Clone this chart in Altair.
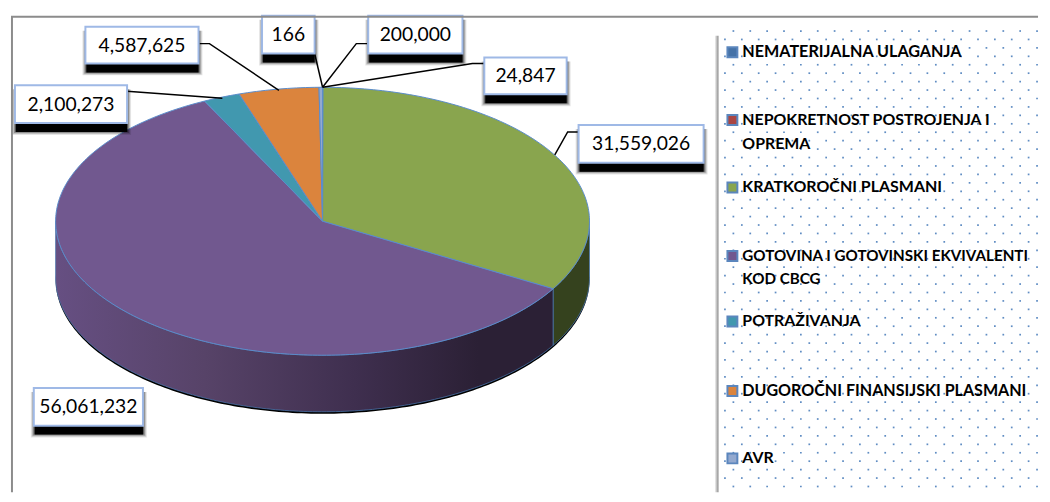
import math
import altair as alt
import pandas as pd

# ---- values ----
categories = ["NEMATERIJALNA ULAGANJA", "NEPOKRETNOST POSTROJENJA I OPREMA", "KRATKOROČNI PLASMANI",
              "GOTOVINA I GOTOVINSKI EKVIVALENTI KOD CBCG", "POTRAŽIVANJA", "DUGOROČNI FINANSIJSKI PLASMANI", "AVR"]
values = [166, 24847, 31559026, 56061232, 2100273, 4587625, 200000]
colors = ["#4572A7", "#AA4643", "#89A54E", "#71588F", "#4198AF", "#DB843D", "#93A9CF"]

# ---- layout (page pixels) ----
W, H = 1034, 486
R, B = 8 + W, 8 + H
CX, CY, RX, RY, DEPTH = 321, 221, 269, 135, 57
boxes = [  # index in values, x0, x1, y0, y1
    (1, 484, 567, 56, 93), (6, 367, 462, 14, 52), (2, 579, 705, 124, 162),
    (3, 30, 140, 389, 427), (4, 11, 124, 84, 122), (5, 82, 196, 25, 62), (0, 260, 313, 14, 52)]
leaders = {
    1: [(484, 62), (472, 62), (321, 86)], 6: [(366, 42), (355, 42), (321, 86)],
    2: [(579, 131), (568, 131), (555, 154)], 4: [(124, 90), (220, 97)],
    5: [(197, 42), (207, 42), (277, 89)], 0: [(313, 52), (321, 86)]}
legend_rows = [(50.7, ["NEMATERIJALNA ULAGANJA"], 16.3), (119, ["NEPOKRETNOST POSTROJENJA I", "OPREMA"], 16),
               (187, ["KRATKOROČNI PLASMANI"], 16.1), (256, ["GOTOVINA I GOTOVINSKI EKVIVALENTI", "KOD CBCG"], 15.3),
               (322, ["POTRAŽIVANJA"], 16), (392, ["DUGOROČNI FINANSIJSKI PLASMANI"], 16.2), (460, ["AVR"], 16)]
LINE = 23.7

xs = alt.Scale(domain=[8, R], nice=False, zero=False)
ys = alt.Scale(domain=[B, 8], nice=False, zero=False)
X = lambda f="x": alt.X(f"{f}:Q", scale=xs, axis=None)
Y = lambda f="y": alt.Y(f"{f}:Q", scale=ys, axis=None)
PROJ = dict(type="identity", scale=1, translate=[-8, -8])


def pt(deg, dy=0):
    t = math.radians(deg)
    return [CX + RX * math.sin(t), CY - RY * math.cos(t) + dy]


def feature(ring, color=""):
    return {"type": "Feature", "properties": {"color": color},
            "geometry": {"type": "Polygon", "coordinates": [ring + [ring[0]]]}}


def arc(a, b, dy=0):
    n = max(2, int(abs(b - a)) + 2)
    return [pt(a + (b - a) * i / (n - 1), dy) for i in range(n)]


total = sum(values)
angles, acc = [], 0.0
for v in values:
    angles.append((acc, acc + v / total * 360))
    acc += v / total * 360

top_features = [feature([[CX, CY]] + arc(a, b), c) for (a, b), c in zip(angles, colors)]


def wall(a, b):
    return feature(arc(a, b) + arc(b, a, DEPTH))


def bounds_rect(df, mark):
    return alt.Chart(df).mark_rect(**mark).encode(x=X("x0"), x2="x1:Q", y=Y("y0"), y2="y1:Q")


# frame and legend panel
frame = pd.DataFrame({"i": [0, 1, 2], "x": [8, 8, R], "y": [B, 15, 15]})
frame_l = alt.Chart(frame).mark_line(color="#8c8c8c", strokeWidth=2).encode(x=X(), y=Y(), order="i:Q")
panel_shadow = bounds_rect(pd.DataFrame({"x0": [716], "x1": [720], "y0": [34], "y1": [B]}), dict(
    fill=alt.Gradient(gradient="linear", x1=0, x2=1, y1=0, y2=0,
                      stops=[alt.GradientStop(offset=0, color="#ffffff"), alt.GradientStop(offset=1, color="#8a8a8a")])))
dots = []
for r in range(55):
    for c in range(19):
        x, y = (735 if r % 2 == 0 else 726.5) + 17 * c, 29.3 + 8.5 * r
        if x < R and y < B:
            dots.append({"x": x, "y": y})
dots_l = alt.Chart(pd.DataFrame(dots)).mark_square(size=3, color="#4f81bd", opacity=0.9).encode(x=X(), y=Y())

# pie
sil_ring = arc(88, 272, DEPTH + 2)
shadow_l = alt.Chart(alt.Data(values=[feature(arc(272, 88) + sil_ring)])).mark_geoshape(
    fill="#000000", strokeWidth=0).project(**PROJ)
purple_a, green_a = angles[3], angles[2]
wall_purple = alt.Chart(alt.Data(values=[wall(purple_a[0], 270)])).mark_geoshape(
    stroke="#4f81bd", strokeWidth=0.7,
    fill=alt.Gradient(gradient="linear", x1=0, x2=1, y1=0, y2=0, stops=[
        alt.GradientStop(offset=0, color="#664f82"), alt.GradientStop(offset=0.3, color="#574368"),
        alt.GradientStop(offset=0.6, color="#3f2f4f"), alt.GradientStop(offset=0.85, color="#2b2035"),
        alt.GradientStop(offset=1, color="#2b2035")])).project(**PROJ)
wall_green = alt.Chart(alt.Data(values=[wall(90, green_a[1])])).mark_geoshape(
    stroke="#4f81bd", strokeWidth=0.7, fill="#35421e").project(**PROJ)
tops = alt.Chart(alt.Data(values=top_features)).mark_geoshape(stroke="#5b8ccb", strokeWidth=1).encode(
    fill=alt.Color("properties.color:N", scale=None, legend=None)).project(**PROJ)

# leaders
lead = pd.DataFrame([{"g": k, "i": i, "x": p[0], "y": p[1]} for k, pts in leaders.items() for i, p in enumerate(pts)])
lead_l = alt.Chart(lead).mark_line(color="#000000", strokeWidth=1.5).encode(x=X(), y=Y(), detail="g:N", order="i:Q")

# callouts
bx = pd.DataFrame([{"x0": a, "x1": b, "y0": c, "y1": d, "label": f"{values[i]:,}"} for i, a, b, c, d in boxes])


def shadow(e, o, extra):
    d = bx.copy()
    d["x0"] = (d["x0"] - e + 1).clip(lower=8)
    d["x1"] += e
    d["y0"] += 4
    d["y1"] += extra + e
    return bounds_rect(d, dict(color="#000000", opacity=o))


sh = [shadow(4, 0.10, 8), shadow(3, 0.16, 8), shadow(2, 0.25, 8), shadow(1, 0.4, 8)]
core = bx.copy()
core["x0"] += 1
core["y1"] += 9
sh.append(bounds_rect(core, dict(color="#000000")))
box_l = bounds_rect(bx, dict(fill="#ffffff", stroke="#9fb9e6", strokeWidth=2))
bx["xc"] = (bx.x0 + bx.x1) / 2
bx["yc"] = (bx.y0 + bx.y1) / 2 + 0.5
txt_l = alt.Chart(bx).mark_text(font="Lato", fontSize=19.4, color="#000000", baseline="middle", align="center").encode(
    x=X("xc"), y=Y("yc"), text="label:N")

# legend
key_df = pd.DataFrame([{"x0": 729, "x1": 739, "y0": r[0] - 5, "y1": r[0] + 5, "c": c} for r, c in zip(legend_rows, colors)])
keys = alt.Chart(key_df).mark_rect(stroke="#5b86bd", strokeWidth=2).encode(
    x=X("x0"), x2="x1:Q", y=Y("y0"), y2="y1:Q", fill=alt.Color("c:N", scale=None, legend=None))
leg_layers = []
for row_y, lines, fs in legend_rows:
    leg_txt = pd.DataFrame([{"x": 744, "y": row_y + i * LINE, "t": t} for i, t in enumerate(lines)])
    leg_layers.append(alt.Chart(leg_txt).mark_text(font="Lato", fontWeight="bold", fontSize=fs, color="#000000",
                                                   align="left", baseline="middle").encode(x=X(), y=Y(), text="t:N"))

chart = alt.layer(
    panel_shadow, dots_l, shadow_l, wall_green, wall_purple, tops, lead_l, *sh, box_l, txt_l, keys, *leg_layers, frame_l
).properties(width=W, height=H, padding=0, background="#ffffff").configure_view(stroke=None)
chart.save("out.html", embed_options={"renderer": "svg", "actions": False})
